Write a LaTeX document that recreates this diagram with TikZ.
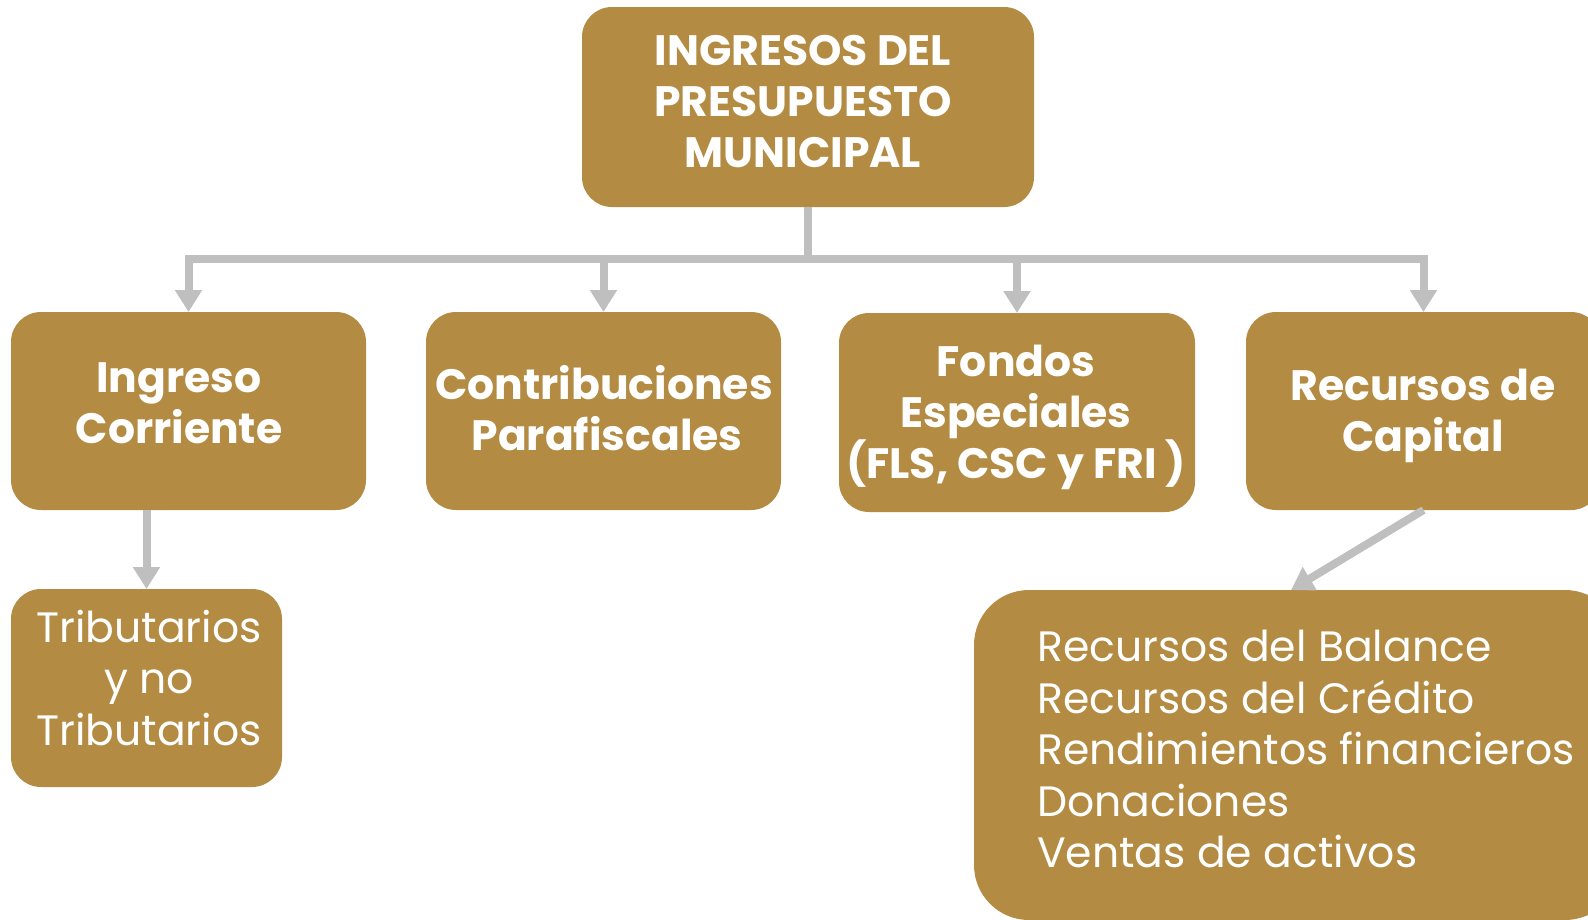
\documentclass[tikz,border=0pt]{standalone}
\usepackage{fontspec}
\setmainfont{Poppins}
\usetikzlibrary{arrows.meta}
\definecolor{gold}{HTML}{B38B42}
\definecolor{conn}{HTML}{BFBFBF}
\begin{document}
\begin{tikzpicture}[x=1pt,y=-1pt,
 box/.style={fill=gold, rounded corners=30pt, inner sep=0pt, outer sep=0pt},
 lbl/.style={text=white, align=center, inner sep=0pt, font=\bfseries\fontsize{42.5}{51}\selectfont},
 plain/.style={text=white, align=center, inner sep=0pt, font=\fontsize{42.5}{51.5}\selectfont},
 lst/.style={text=white, align=left, inner sep=0pt, anchor=west, font=\fontsize{42.5}{51.5}\selectfont},
 con/.style={draw=conn, line width=8pt, line join=miter, -{Triangle[width=26pt,length=22pt]}}
]
\useasboundingbox (0,0) rectangle (1588,919);
\clip (0,0) rectangle (1588,919);
% boxes
\node[box, minimum width=452pt, minimum height=200pt] (top) at (808,107) {};
\node[box, minimum width=355pt, minimum height=198pt] (ic) at (188.5,411) {};
\node[box, minimum width=355pt, minimum height=198pt] (cp) at (603.5,411) {};
\node[box, minimum width=356pt, minimum height=199pt] (fe) at (1017,412.5) {};
\node[box, minimum width=355pt, minimum height=198pt] (rc) at (1423.5,411) {};
\node[box, minimum width=271pt, minimum height=198pt] (tr) at (146.5,688) {};
\node[box, rounded corners=55pt, minimum width=646pt, minimum height=330pt] (ls) at (1297,755) {};
% texts
\node[lbl] (ttop) at (803,102) {INGRESOS DEL\\PRESUPUESTO\\MUNICIPAL};
\node[lbl] (tic) at (179,403) {Ingreso\\Corriente};
\node[lbl] (tcp) at (604,408) {Contribuciones\\\hspace*{6pt}Parafiscales};
\node[lbl] (tfe) at (1016,417) {Fondos\\Especiales\\(FLS, CSC y FRI )};
\node[lbl] (trc) at (1423,416) {Recursos de\\Capital};
\node[plain] (ttr) at (149,678) {Tributarios\\y no\\Tributarios};
\node[lst] (tls) at (1037,749) {Recursos del Balance\\Recursos del Crédito\\Rendimientos financieros\\Donaciones\\Ventas de activos};
% connectors
\coordinate (hub) at (808,259);
\coordinate (lsin) at (1291,590);
\draw[con] (top.south) -- (hub) -| (ic.north);
\draw[con] (top.south) -- (hub) -| (cp.north);
\draw[con] (top.south) -- (hub) -| (fe.north);
\draw[con] (top.south) -- (hub) -| (rc.north);
\draw[con] (ic.south -| tr.north) -- (tr.north);
\draw[con] (rc.south) -- (lsin);
\end{tikzpicture}
\end{document}
